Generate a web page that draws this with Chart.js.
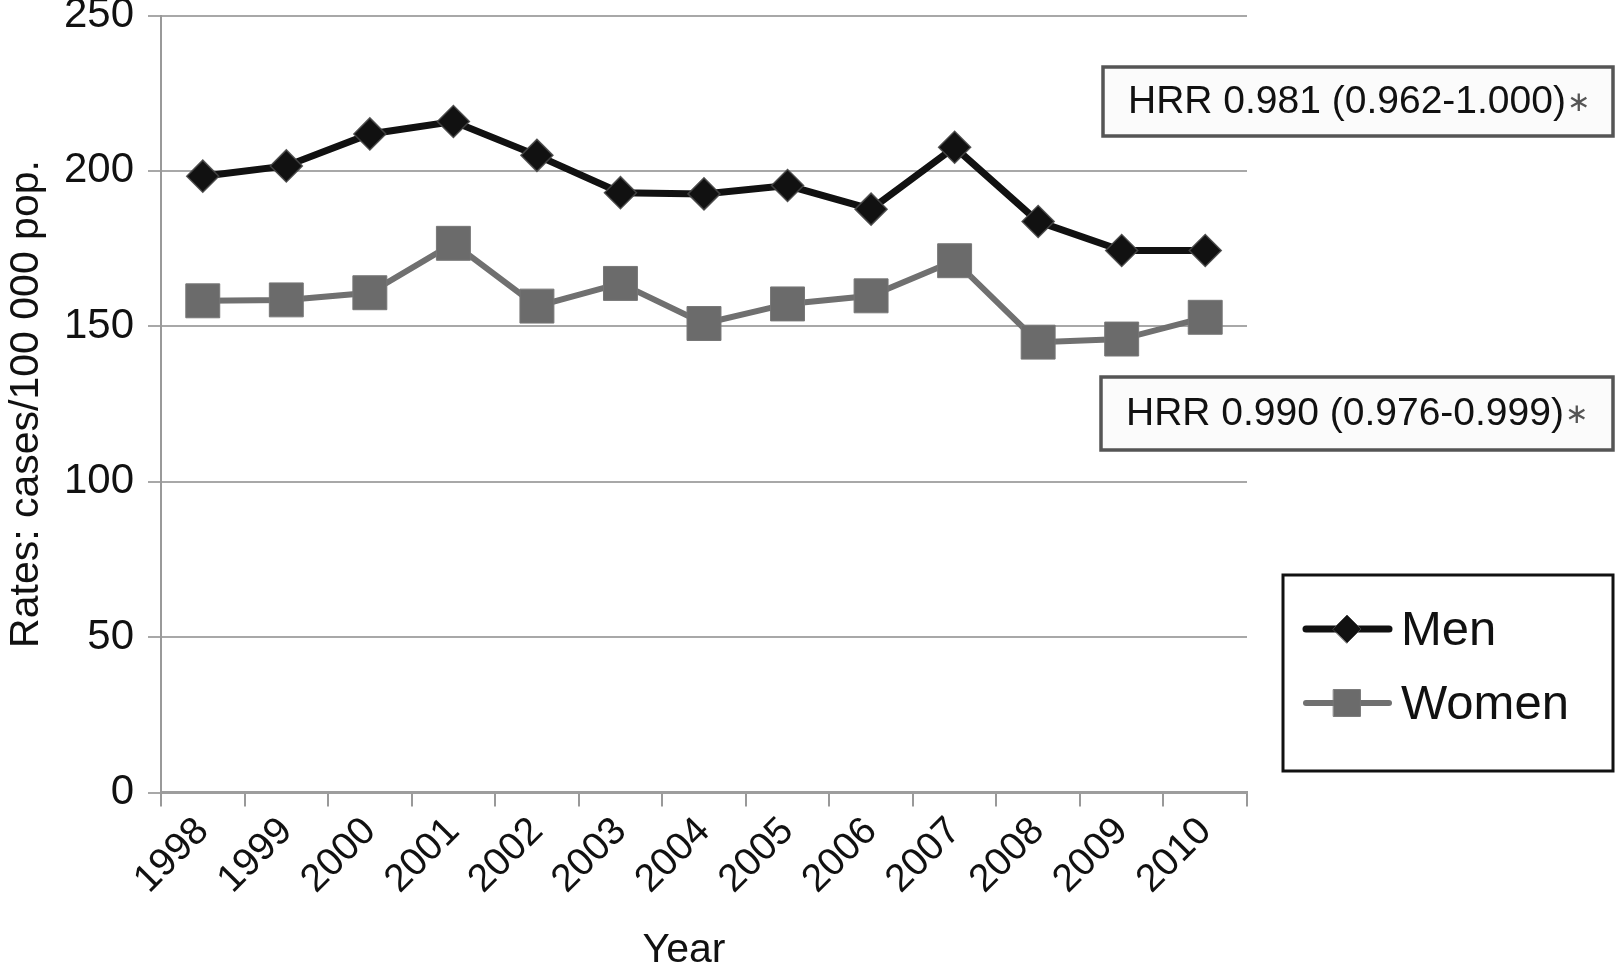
<!DOCTYPE html>
<html>
<head>
<meta charset="utf-8">
<script src="https://cdn.jsdelivr.net/npm/chart.js@4.4.1/dist/chart.umd.min.js"></script>
<style>
  html, body { margin: 0; padding: 0; background: #fff; }
  #wrap { width: 1616px; height: 975px; position: relative; }
</style>
</head>
<body>
<div id="wrap"><canvas id="rateChart" width="1616" height="975"></canvas></div>
<script>
// values
const years = ['1998', '1999', '2000', '2001', '2002', '2003', '2004', '2005', '2006', '2007', '2008', '2009', '2010'];
const menRates = [198.3, 201.6, 211.9, 215.9, 205.0, 193.0, 192.6, 195.3, 187.7, 207.6, 183.7, 174.4, 174.4];
const womenRates = [158.2, 158.5, 160.8, 176.7, 156.5, 163.8, 150.9, 157.2, 159.8, 171.1, 144.9, 145.9, 152.9];
const yMin = 0, yMax = 250, yStep = 50;
const xTitle = 'Year';
const yTitle = 'Rates: cases/100 000 pop.';
const hrrMen = 'HRR 0.981 (0.962-1.000)';
const hrrWomen = 'HRR 0.990 (0.976-0.999)';

const FONT = '"Liberation Sans", Arial, sans-serif';
Chart.defaults.font.family = FONT;
Chart.defaults.color = '#111';

function drawNote(ctx, x, y, w, h, text) {
  ctx.fillStyle = '#fbfbfb';
  ctx.fillRect(x, y, w, h);
  ctx.strokeStyle = '#555';
  ctx.lineWidth = 3.5;
  ctx.strokeRect(x, y, w, h);
  ctx.fillStyle = '#111';
  ctx.font = '39px ' + FONT;
  ctx.textBaseline = 'middle';
  ctx.textAlign = 'left';
  ctx.fillText(text, x + 25, y + h / 2 + 1);
  const tw = ctx.measureText(text).width;
  ctx.fillStyle = '#555';
  ctx.font = '28px "DejaVu Sans", sans-serif';
  ctx.fillText('\u2217', x + 25 + tw + 1, y + h / 2 + 2);
}

// annotation boxes, x title and the boxed legend, drawn over the chart
const extrasPlugin = {
  id: 'extras',
  afterDraw(chart) {
    const ctx = chart.ctx;
    ctx.save();
    drawNote(ctx, 1103, 67, 510, 69, hrrMen);
    drawNote(ctx, 1101, 377, 512, 73, hrrWomen);

    ctx.fillStyle = '#111';
    ctx.font = '41px ' + FONT;
    ctx.textAlign = 'center';
    ctx.textBaseline = 'middle';
    ctx.fillText(xTitle, 684, 951);

    // legend
    ctx.fillStyle = '#fff';
    ctx.fillRect(1283, 575, 330, 196);
    ctx.strokeStyle = '#111';
    ctx.lineWidth = 3;
    ctx.strokeRect(1283, 575, 330, 196);
    const rows = [629, 703];
    const legendRadius = [14, 19];
    chart.data.datasets.forEach((ds, i) => {
      const ly = rows[i];
      ctx.strokeStyle = ds.borderColor;
      ctx.lineWidth = ds.borderWidth;
      ctx.lineCap = 'round';
      ctx.beginPath();
      ctx.moveTo(1306, ly);
      ctx.lineTo(1389, ly);
      ctx.stroke();
      ctx.fillStyle = ds.pointBackgroundColor;
      ctx.strokeStyle = ds.pointBorderColor;
      ctx.lineWidth = 1;
      Chart.helpers.drawPoint(ctx, { pointStyle: ds.pointStyle, radius: legendRadius[i], rotation: 0, borderWidth: 1 }, 1347, ly);
      ctx.fillStyle = '#111';
      ctx.font = '49px ' + FONT;
      ctx.textAlign = 'left';
      ctx.textBaseline = 'middle';
      ctx.fillText(ds.label, 1401, ly + 2);
    });
    ctx.restore();
  }
};

new Chart(document.getElementById('rateChart'), {
  type: 'line',
  data: {
    labels: years,
    datasets: [
      {
        label: 'Men',
        data: menRates,
        borderColor: '#111',
        borderWidth: 7,
        pointStyle: 'rectRot',
        pointRadius: 16,
        pointBackgroundColor: '#111',
        pointBorderColor: 'rgba(70,70,70,0.9)',
        pointBorderWidth: 1.5,
        tension: 0
      },
      {
        label: 'Women',
        data: womenRates,
        borderColor: '#707070',
        borderWidth: 6,
        pointStyle: 'rect',
        pointRadius: 24,
        pointBackgroundColor: '#6b6b6b',
        pointBorderColor: '#777',
        pointBorderWidth: 1,
        tension: 0
      }
    ]
  },
  options: {
    responsive: false,
    animation: false,
    devicePixelRatio: 1,
    layout: { autoPadding: false, padding: { top: 15.5, right: 369, bottom: 0, left: 0 } },
    plugins: {
      legend: { display: false },
      tooltip: { enabled: false }
    },
    scales: {
      x: {
        offset: true,
        grid: { offset: true, drawOnChartArea: false, tickLength: 14, color: '#999', lineWidth: 2 },
        border: { color: '#9d9d9d', width: 3 },
        ticks: { minRotation: 45, maxRotation: 45, autoSkip: false, font: { size: 39 }, color: '#111', padding: 2 },
        afterFit(scale) { scale.height = 182.5; }
      },
      y: {
        min: yMin,
        max: yMax,
        ticks: { stepSize: yStep, font: { size: 42, lineHeight: 0.7 }, color: '#111', padding: 14 },
        grid: { color: '#a8a8a8', lineWidth: 2, tickLength: 13 },
        border: { color: '#999', width: 2 },
        title: { display: true, text: yTitle, font: { size: 41 }, color: '#111', padding: { top: 2, bottom: 0 } },
        afterFit(scale) { scale.width = 161; scale.paddingTop = 0; }
      }
    }
  },
  plugins: [extrasPlugin]
});
</script>
</body>
</html>
